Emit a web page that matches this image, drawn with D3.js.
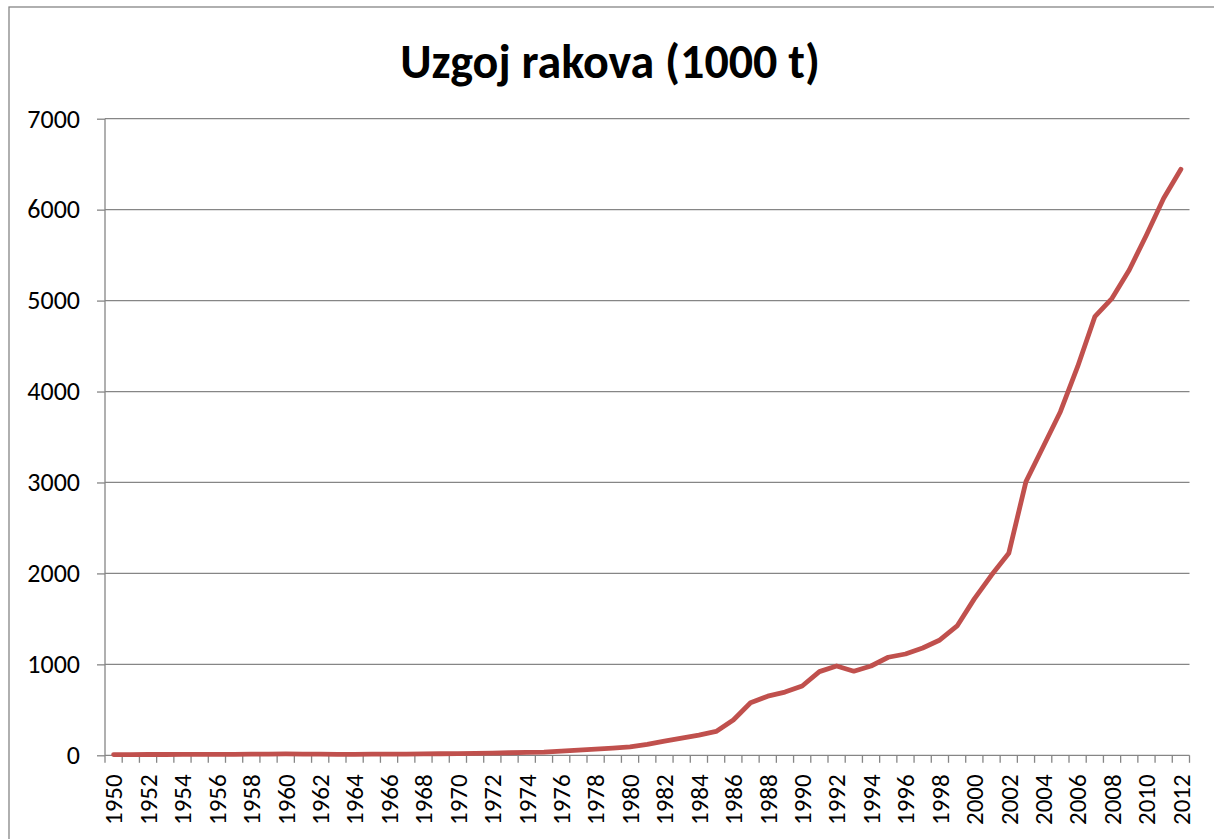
<!DOCTYPE html>
<html lang="hr">

<head>
    <meta charset="UTF-8">
    <title>Uzgoj rakova</title>
    <style>
        body {
            margin: 0;
            background: #fff;
        }

        svg text {
            font-family: Carlito, 'Liberation Sans', Arial, sans-serif;
            fill: #000;
        }
    </style>
</head>

<body>
    <script src="https://d3js.org/d3.v7.min.js"></script>
    <script>
        // godine 1950 - 2012
        const years = d3.range(1950, 2013)
        const values = [
            8, 8, 9, 9, 10, 10, 10, 11, 12, 13,
            15, 14, 13, 10, 10, 12, 13, 14, 15, 17,
            19, 21, 24, 28, 33, 35, 46, 58, 68, 80,
            92, 120, 155, 190, 222, 262, 388, 578, 650, 695,
            762, 920, 982, 925, 982, 1078, 1114, 1180, 1268, 1422,
            1720, 1982, 2221, 3009, 3393, 3778, 4273, 4823, 5025, 5337,
            5721, 6125, 6444
        ]
        const yTicks = [0, 1000, 2000, 3000, 4000, 5000, 6000, 7000]
        const title = 'Uzgoj rakova (1000 t)'

        const width = 1214
        const height = 839
        const margin = { left: 105, right: 1189.5, top: 118.7, bottom: 755.3 }
        const gridColor = '#868686'

        const svg = d3.select('body')
            .append('svg')
            .attr('width', width)
            .attr('height', height)

        // okvir grafikona
        svg.append('rect')
            .attr('x', 9)
            .attr('y', 7)
            .attr('width', width)
            .attr('height', height)
            .attr('fill', 'none')
            .attr('stroke', gridColor)
            .attr('stroke-width', 1.3)

        svg.append('text')
            .attr('x', 610)
            .attr('y', 78)
            .attr('text-anchor', 'middle')
            .attr('font-size', 48)
            .attr('font-weight', 'bold')
            .text(title)

        const x = d3.scaleBand()
            .domain(years)
            .range([margin.left, margin.right])
            .padding(0)

        const y = d3.scaleLinear()
            .domain([0, 7000])
            .range([margin.bottom, margin.top])

        // mreza + y os
        const yAxis = svg.append('g')
            .attr('transform', 'translate(' + margin.left + ',0)')
            .call(d3.axisLeft(y)
                .tickValues(yTicks)
                .tickFormat(d3.format('d'))
                .tickSize(8)
                .tickPadding(17))
        yAxis.select('.domain').remove()
        yAxis.selectAll('line')
            .attr('stroke', gridColor)
            .attr('stroke-width', 1.3)
        yAxis.selectAll('text')
            .attr('font-size', 26)
            .attr('font-family', null)
            .attr('fill', '#000')

        const grid = svg.append('g')
        grid.selectAll('line')
            .data(yTicks.filter(d => d > 0))
            .join('line')
            .attr('x1', margin.left)
            .attr('x2', margin.right)
            .attr('y1', d => y(d))
            .attr('y2', d => y(d))
            .attr('stroke', gridColor)
            .attr('stroke-width', 1.3)

        svg.append('line')
            .attr('x1', margin.left)
            .attr('x2', margin.left)
            .attr('y1', margin.top)
            .attr('y2', margin.bottom)
            .attr('stroke', gridColor)
            .attr('stroke-width', 1.3)

        // x os
        svg.append('line')
            .attr('x1', margin.left)
            .attr('x2', margin.right)
            .attr('y1', margin.bottom)
            .attr('y2', margin.bottom)
            .attr('stroke', gridColor)
            .attr('stroke-width', 1.3)

        const bounds = years.map(d => x(d)).concat([x(years[years.length - 1]) + x.bandwidth()])
        svg.append('g')
            .selectAll('line')
            .data(bounds)
            .join('line')
            .attr('x1', d => d)
            .attr('x2', d => d)
            .attr('y1', margin.bottom)
            .attr('y2', margin.bottom + 7.5)
            .attr('stroke', gridColor)
            .attr('stroke-width', 1.3)

        svg.append('g')
            .selectAll('text')
            .data(years.filter(d => d % 2 === 0))
            .join('text')
            .attr('transform', d => 'translate(' + (x(d) + x.bandwidth() / 2) + ',' + (margin.bottom + 19) + ') rotate(-90)')
            .attr('text-anchor', 'end')
            .attr('dy', '0.35em')
            .attr('font-size', 25)
            .text(d => d)

        const line = d3.line()
            .x((d, i) => x(years[i]) + x.bandwidth() / 2)
            .y(d => y(d))

        svg.append('path')
            .datum(values)
            .attr('fill', 'none')
            .attr('stroke', '#c0504d')
            .attr('stroke-width', 4.8)
            .attr('stroke-linejoin', 'round')
            .attr('stroke-linecap', 'round')
            .attr('d', line)
    </script>
</body>

</html>
